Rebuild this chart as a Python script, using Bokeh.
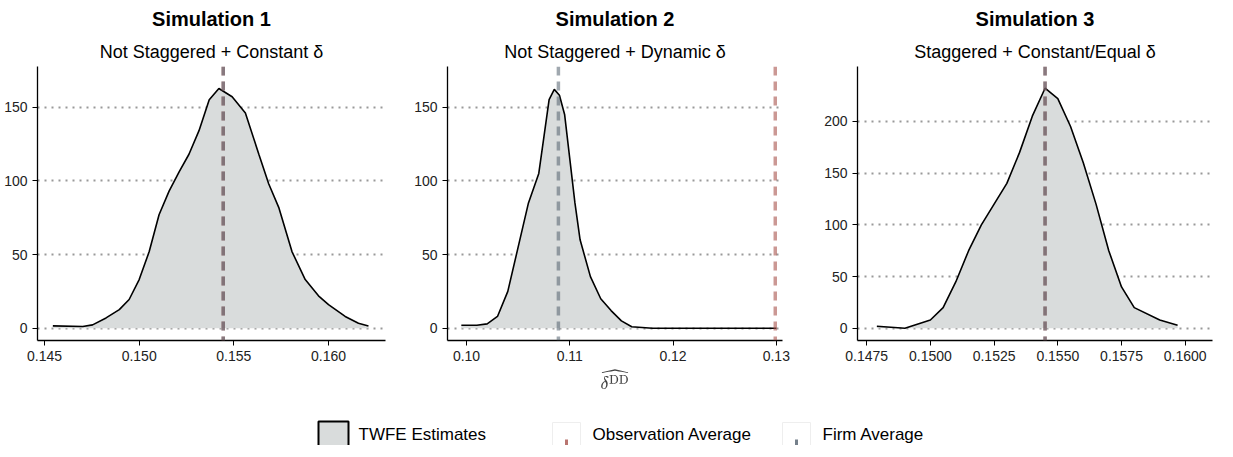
from bokeh.embed import file_html
from bokeh.resources import INLINE
from bokeh.plotting import figure
from bokeh.layouts import column, row
from bokeh.models import Title, Range1d, FixedTicker, Span
from bokeh.core.properties import value

FONT = "Liberation Sans"
FILL = "#d9dcdc"
OBS_COLOR = "#a8534c"
FIRM_COLOR = "#52606e"

# Simulation 1 density
sim1_x = [0.14544, 0.14702, 0.14754, 0.14825, 0.14895, 0.14947, 0.15000, 0.15053, 0.15105,
          0.15158, 0.15211, 0.15263, 0.15316, 0.15370, 0.15421, 0.15491, 0.15561, 0.15632,
          0.15684, 0.15737, 0.15807, 0.15877, 0.15947, 0.16000, 0.16088, 0.16158, 0.16211]
sim1_y = [1.6, 1.2, 2.3, 7, 12.6, 19.5, 33, 52, 77, 93, 106, 118, 134, 155, 162.6, 157, 146,
          118, 98, 82, 52, 33, 22, 16, 8, 3.4, 1.6]
sim1_obs, sim1_firm = 0.15444, 0.15444

# Simulation 2 density
sim2_x = [0.0995, 0.1010, 0.1020, 0.1030, 0.1040, 0.1050, 0.1060, 0.1070, 0.1075, 0.1080,
          0.1085, 0.1090, 0.1095, 0.1100, 0.1105, 0.1110, 0.1120, 0.1130, 0.1140, 0.1150,
          0.1160, 0.1180, 0.1300]
sim2_y = [2, 2, 3, 8, 25, 55, 85, 105, 130, 155, 162, 158, 145, 115, 85, 60, 35, 20, 12, 5,
          1, 0, 0]
sim2_obs, sim2_firm = 0.1299, 0.1089

# Simulation 3 density
sim3_x = [0.1479, 0.1490, 0.1500, 0.1505, 0.1510, 0.1515, 0.1520, 0.1525, 0.1530, 0.1535,
          0.1540, 0.1545, 0.1550, 0.1555, 0.1560, 0.1565, 0.1570, 0.1575, 0.1580, 0.1590,
          0.1597]
sim3_y = [2, 0, 8, 20, 45, 75, 100, 120, 140, 170, 205, 232, 222, 195, 160, 120, 75, 40, 20,
          8, 3]
sim3_obs, sim3_firm = 0.1545, 0.1545

titles = ["Simulation 1", "Simulation 2", "Simulation 3"]
subtitles = ["Not Staggered + Constant \u03b4", "Not Staggered + Dynamic \u03b4",
             "Staggered + Constant/Equal \u03b4"]
legend_labels = ["TWFE Estimates", "Observation Average", "Firm Average"]


def panel(xs, ys, obs, firm, title, subtitle, xr, yr, xticks, yticks, xfmt,
          width, left, right, xlabel=None):
    p = figure(width=width, height=395, output_backend="svg", toolbar_location=None,
               x_range=Range1d(*xr), y_range=Range1d(*yr),
               min_border_left=left, min_border_right=right,
               min_border_top=0, min_border_bottom=55)
    p.add_layout(Title(text=subtitle, align="center", text_font=FONT, text_color="black",
                       text_font_size="18px", text_font_style="normal"), "above")
    p.add_layout(Title(text=title, align="center", text_font=FONT, text_color="black",
                       text_font_size="20px", text_font_style="bold"), "above")
    p.outline_line_color = None
    p.xgrid.grid_line_color = None
    p.ygrid.grid_line_color = "#999999"
    p.ygrid.grid_line_dash = "2 5"
    p.ygrid.grid_line_width = 2
    px = [xs[0]] + xs + [xs[-1]]
    py = [0] + ys + [0]
    p.patch(px, py, fill_color=FILL, line_color=None)
    p.line(xs, ys, line_color="black", line_width=1.6)
    p.add_layout(Span(location=obs, dimension="height", line_color=OBS_COLOR,
                      line_alpha=0.6, line_width=3.5, line_dash="9 6"))
    p.add_layout(Span(location=firm, dimension="height", line_color=FIRM_COLOR,
                      line_alpha=0.55, line_width=3.5, line_dash="9 6"))
    p.xaxis.ticker = FixedTicker(ticks=xticks)
    p.xaxis.major_label_overrides = {t: xfmt.format(t) for t in xticks}
    p.yaxis.ticker = FixedTicker(ticks=yticks)
    for ax in (p.xaxis[0], p.yaxis[0]):
        ax.axis_line_color = "black"
        ax.axis_line_width = 1.3
        ax.major_tick_line_color = "black"
        ax.major_tick_out = 5
        ax.major_tick_in = 0
        ax.minor_tick_line_color = None
        ax.major_label_text_font = FONT
        ax.major_label_text_font_size = "14px"
        ax.major_label_text_color = "#222222"
    if xlabel:
        p.xaxis.axis_label = xlabel
        p.xaxis.axis_label_text_font = FONT
        p.xaxis.axis_label_text_font_style = "normal"
        p.xaxis.axis_label_text_font_size = "14px"
        p.xaxis.axis_label_standoff = 4
    return p


f1 = panel(sim1_x, sim1_y, sim1_obs, sim1_firm, titles[0], subtitles[0],
           (0.14463, 0.16301), (-8.3, 177.5), [0.145, 0.150, 0.155, 0.160],
           [0, 50, 100, 150], "{:.3f}", 405, 37, 20)
f2 = panel(sim2_x, sim2_y, sim2_obs, sim2_firm, titles[1], subtitles[1],
           (0.09816, 0.1306), (-8.3, 177.5), [0.10, 0.11, 0.12, 0.13],
           [0, 50, 100, 150], "{:.2f}", 405, 42, 28,
           xlabel=r"$$\widehat{\delta^{\mathrm{DD}}}$$")
f3 = panel(sim3_x, sim3_y, sim3_obs, sim3_firm, titles[2], subtitles[2],
           (0.14714, 0.16107), (-11.8, 253), [0.1475, 0.1500, 0.1525, 0.1550, 0.1575, 0.1600],
           [0, 50, 100, 150, 200], "{:.4f}", 407, 47, 5)

# legend strip
leg = figure(width=1217, height=50, output_backend="svg", toolbar_location=None,
             x_range=Range1d(0, 1217), y_range=Range1d(0, 50), min_border=0)
leg.axis.visible = False
leg.grid.visible = False
leg.outline_line_color = None
leg.rect([333], [9], 30, 30, fill_color=FILL, line_color="black", line_width=2)
leg.rect([566, 796], [9, 9], 28, 28, fill_color="white", line_color="#eeeeee")
leg.segment([566, 796], [-4, -4], [566, 796], [6, 6], line_color=[OBS_COLOR, FIRM_COLOR],
            line_width=3, line_alpha=0.8)
leg.text([358, 592, 822], [11, 11, 11], text=legend_labels,
         text_font=value(FONT), text_font_size="17px", text_baseline="middle")

layout = column(row(f1, f2, f3), leg)
open("out.html", "w").write(file_html(layout, INLINE))
